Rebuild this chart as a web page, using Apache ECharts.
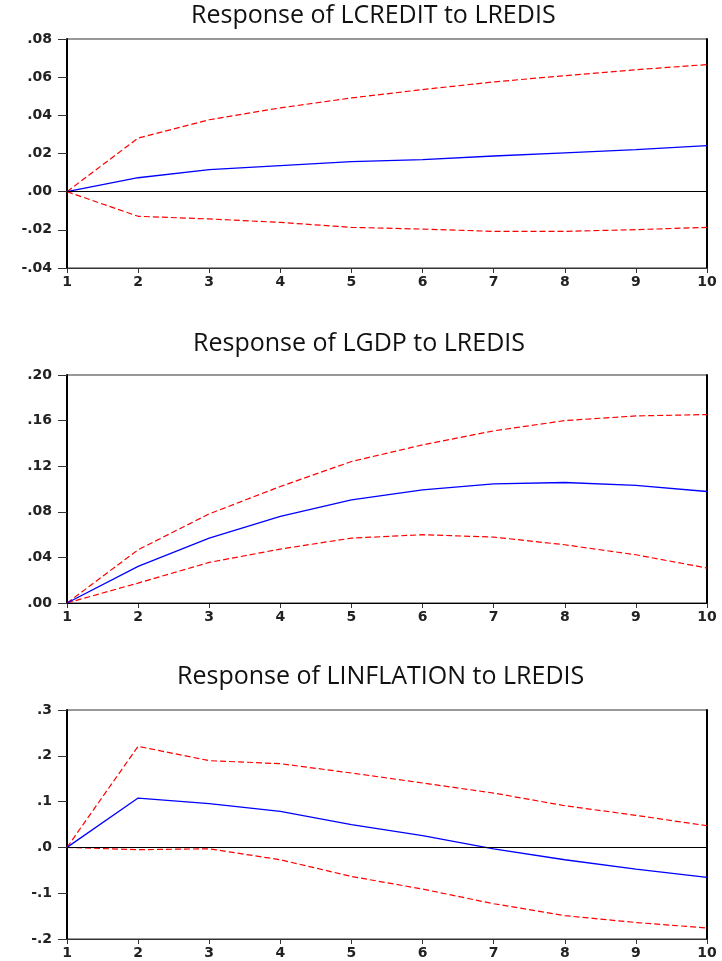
<!DOCTYPE html>
<html>
<head>
<meta charset="utf-8">
<script src="https://cdn.jsdelivr.net/npm/echarts@6/dist/echarts.min.js"></script>
<style>html,body{margin:0;padding:0;background:#fff;}#c{width:722px;height:961px;}</style>
</head>
<body>
<div id="c"></div>
<script>
const periods = [1, 2, 3, 4, 5, 6, 7, 8, 9, 10];
const titles = ['Response of LCREDIT to LREDIS', 'Response of LGDP to LREDIS', 'Response of LINFLATION to LREDIS'];

const creditResp  = [0, 0.0073, 0.0115, 0.0136, 0.0157, 0.0168, 0.0187, 0.0203, 0.0220, 0.0241];
const creditUpper = [0, 0.0281, 0.0377, 0.0439, 0.0491, 0.0535, 0.0575, 0.0608, 0.0639, 0.0666];
const creditLower = [0, -0.0129, -0.0143, -0.0161, -0.0187, -0.0196, -0.0208, -0.0208, -0.0199, -0.0187];

const gdpResp  = [0, 0.0321, 0.0569, 0.0759, 0.0905, 0.0993, 0.1045, 0.1057, 0.1031, 0.0978];
const gdpUpper = [0, 0.0467, 0.0782, 0.1022, 0.1241, 0.1387, 0.1510, 0.1600, 0.1641, 0.1653];
const gdpLower = [0, 0.0175, 0.0356, 0.0473, 0.0569, 0.0599, 0.0578, 0.0511, 0.0423, 0.0307];

const inflResp  = [0, 0.1078, 0.0954, 0.0787, 0.0495, 0.0255, -0.0030, -0.0270, -0.0473, -0.0655];
const inflUpper = [0, 0.2207, 0.1894, 0.1828, 0.1624, 0.1406, 0.1187, 0.0910, 0.0700, 0.0473];
const inflLower = [0, -0.0050, -0.0030, -0.0270, -0.0634, -0.0910, -0.1230, -0.1490, -0.1640, -0.1760];

const yRanges = [[-0.04, 0.08, 0.02, 2], [0, 0.20, 0.04, 2], [-0.2, 0.3, 0.1, 1]];
const panels = [
  [creditResp, creditUpper, creditLower],
  [gdpResp, gdpUpper, gdpLower],
  [inflResp, inflUpper, inflLower]
];

const gridTops = [39, 375, 710];
const gridHeights = [229, 228, 229];
const titleLefts = [191, 193, 177];
const titleTops = [3, 331, 664];

const chart = echarts.init(document.getElementById('c'), null, {renderer: 'canvas'});

const grid = [], xAxis = [], yAxis = [], series = [], title = [];
const axisFont = {fontFamily: 'DejaVu Sans', fontWeight: 'bold', fontSize: 14, color: '#222'};

for (let i = 0; i < 3; i++) {
  title.push({
    text: titles[i], left: titleLefts[i], top: titleTops[i], padding: 0,
    textStyle: {fontFamily: 'Open Sans', fontWeight: 'normal', fontSize: 25, color: '#111'}
  });
  grid.push({left: 67, top: gridTops[i], width: 640, height: gridHeights[i],
    show: true, borderColor: '#333', borderWidth: 1, backgroundColor: 'transparent'});
  xAxis.push({
    type: 'value', gridIndex: i, min: 1, max: 10, interval: 1,
    axisLine: {show: true, onZero: false, lineStyle: {color: '#333', width: 1}},
    axisTick: {show: true, length: 5, lineStyle: {color: '#333'}},
    axisLabel: Object.assign({margin: 7}, axisFont),
    splitLine: {show: false}
  });
  const r = yRanges[i];
  yAxis.push({
    type: 'value', gridIndex: i, min: r[0], max: r[1], interval: r[2],
    axisLine: {show: true, lineStyle: {color: '#000', width: 2}},
    axisTick: {show: true, length: 9, lineStyle: {color: '#333'}},
    axisLabel: Object.assign({margin: 15, formatter: v => v.toFixed(r[3]).replace('0.', '.')}, axisFont),
    splitLine: {show: false}
  });
  yAxis.push({
    type: 'value', gridIndex: i, position: 'right', min: r[0], max: r[1], interval: r[2],
    axisLine: {show: true, lineStyle: {color: '#000', width: 2}},
    axisTick: {show: false}, axisLabel: {show: false}, splitLine: {show: false}
  });
  const d = panels[i];
  const pts = arr => periods.map((p, k) => [p, arr[k]]);
  series.push({
    type: 'line', xAxisIndex: i, yAxisIndex: 2 * i, data: pts(d[0]), symbol: 'none',
    lineStyle: {color: '#0000ff', width: 1.3}, z: 3,
    markLine: {silent: true, symbol: 'none', label: {show: false},
      lineStyle: {color: '#000', width: 1, type: 'solid'}, data: [{yAxis: 0}]}
  });
  series.push({
    type: 'line', xAxisIndex: i, yAxisIndex: 2 * i, data: pts(d[1]), symbol: 'none',
    lineStyle: {color: '#ff0000', width: 1.2, type: [6, 3]}, z: 2
  });
  series.push({
    type: 'line', xAxisIndex: i, yAxisIndex: 2 * i, data: pts(d[2]), symbol: 'none',
    lineStyle: {color: '#ff0000', width: 1.2, type: [6, 3]}, z: 2
  });
}

chart.setOption({animation: false, title, grid, xAxis, yAxis, series});
</script>
</body>
</html>
